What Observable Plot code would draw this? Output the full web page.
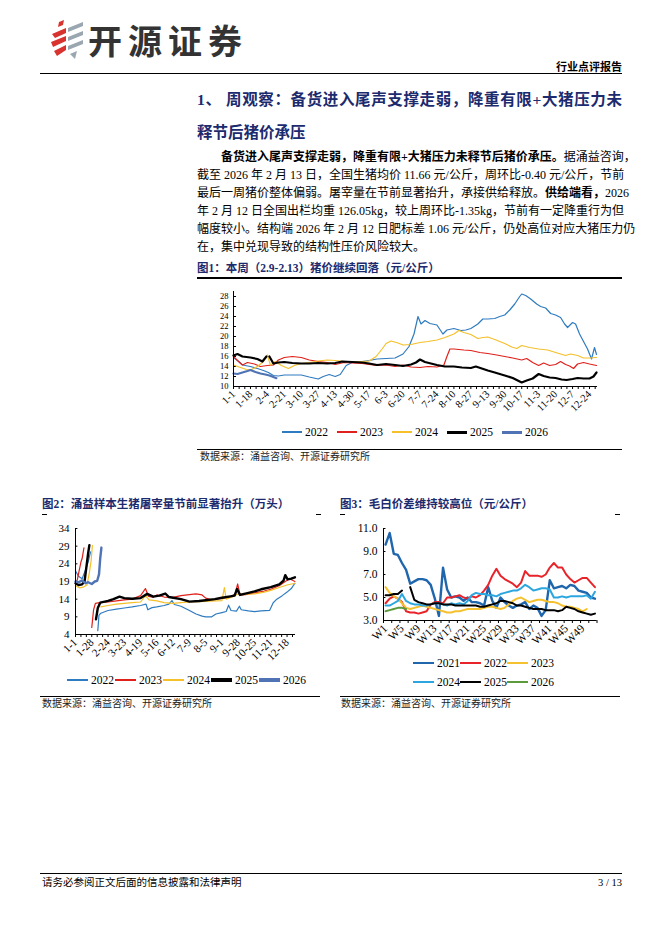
<!DOCTYPE html>
<html><head><meta charset="utf-8">
<script src="https://cdn.jsdelivr.net/npm/d3@7"></script>
<script src="https://cdn.jsdelivr.net/npm/@observablehq/plot@0.6"></script>
<style>
body{margin:0;background:#fff;}
#page{position:relative;width:662px;height:936px;overflow:hidden;background:#fff;font-family:"Liberation Serif","Noto Sans CJK SC",serif;color:#000;}
.abs{position:absolute;white-space:nowrap;}
.hl{position:absolute;background:#000;}
.para{position:absolute;font-size:12px;line-height:18px;height:18px;white-space:nowrap;text-align:justify;text-align-last:justify;}
.para b{font-family:"Liberation Serif","Noto Sans CJK SC";font-weight:700;}
.navy{color:#1c2a6e;font-weight:700;}
.src{position:absolute;font-size:10px;line-height:12px;color:#222;white-space:nowrap;}
.chart{position:absolute;overflow:visible;}
.lg{position:absolute;display:flex;align-items:center;font-size:11.5px;line-height:14px;white-space:nowrap;}
.lg .it{display:flex;align-items:center;}
.lg .sw{display:inline-block;}
</style></head>
<body><div id="page"></div>
<script>
// ---------------- DATA ----------------
// Fig1: hog price (元/公斤), [date, value]
const c1Ticks = ["1-1","1-18","2-4","2-21","3-10","3-27","4-13","4-30","5-17","6-3","6-20","7-7","7-24","8-10","8-27","9-13","9-30","10-17","11-3","11-20","12-7","12-24"];
const c1_2022 = [["1-1",15.8],["1-5",15.2],["1-10",14.3],["1-18",14.0],["1-25",13.6],["1-31",13.2],["2-5",12.8],["2-10",12.2],["2-15",12.1],["2-21",12.3],["3-1",12.3],["3-10",12.3],["3-18",11.9],["3-27",11.5],["4-1",12.0],["4-7",12.4],["4-13",12.0],["4-18",12.4],["4-24",14.2],["4-30",14.8],["5-10",15.0],["5-17",15.2],["5-25",15.5],["6-3",15.6],["6-12",15.7],["6-20",16.5],["6-26",18.0],["7-1",20.5],["7-5",24.0],["7-8",22.5],["7-12",23.2],["7-17",22.6],["7-24",22.3],["7-30",20.5],["8-3",21.3],["8-10",21.6],["8-17",21.2],["8-22",21.3],["8-27",21.6],["9-3",22.5],["9-8",23.5],["9-13",23.5],["9-20",23.6],["9-25",24.0],["9-30",24.3],["10-5",25.3],["10-10",26.5],["10-15",28.0],["10-17",28.5],["10-21",28.2],["10-26",27.5],["11-1",26.5],["11-5",26.0],["11-10",25.7],["11-15",24.6],["11-20",24.3],["11-25",23.8],["11-29",22.5],["12-2",21.8],["12-7",22.8],["12-10",22.5],["12-14",20.5],["12-18",19.0],["12-22",17.5],["12-26",15.5],["12-29",17.8],["12-31",16.4]];
const c1_2023 = [["1-1",16.0],["1-5",15.2],["1-10",14.3],["1-15",14.8],["1-22",14.5],["1-28",14.0],["2-4",14.2],["2-10",14.3],["2-15",15.3],["2-21",15.8],["3-1",16.0],["3-10",15.8],["3-18",15.3],["3-27",15.0],["4-5",14.8],["4-13",14.4],["4-22",14.8],["4-30",14.7],["5-10",14.6],["5-17",14.4],["5-25",14.2],["6-3",14.3],["6-12",14.0],["6-20",14.3],["6-28",13.9],["7-7",13.8],["7-15",14.0],["7-24",13.9],["7-31",14.3],["8-3",16.0],["8-6",17.5],["8-10",17.5],["8-20",17.3],["8-27",17.2],["9-5",16.8],["9-13",16.6],["9-22",16.3],["9-30",16.0],["10-8",15.7],["10-17",15.3],["10-22",15.6],["10-28",14.8],["11-3",14.2],["11-8",14.7],["11-14",14.2],["11-20",14.4],["11-25",15.0],["11-30",14.4],["12-4",14.1],["12-8",13.6],["12-12",14.5],["12-18",14.8],["12-24",14.5],["12-31",14.2]];
const c1_2024 = [["1-1",14.3],["1-8",13.8],["1-14",13.4],["1-18",13.3],["1-25",14.0],["1-31",15.0],["2-4",16.3],["2-7",14.3],["2-12",15.0],["2-18",14.2],["2-25",13.6],["3-3",14.2],["3-10",14.6],["3-18",14.8],["3-27",15.1],["4-5",15.3],["4-13",15.2],["4-22",15.0],["4-30",14.9],["5-10",15.0],["5-17",15.1],["5-24",16.0],["5-30",17.5],["6-3",18.6],["6-8",19.1],["6-15",18.7],["6-20",18.3],["6-28",18.4],["7-7",18.8],["7-15",19.0],["7-24",19.3],["8-1",19.8],["8-10",20.5],["8-15",21.2],["8-20",20.8],["8-27",20.4],["9-3",19.6],["9-8",19.8],["9-13",19.9],["9-20",19.4],["9-30",18.6],["10-7",17.9],["10-12",17.6],["10-17",18.2],["10-25",17.8],["11-3",17.5],["11-12",17.3],["11-20",16.8],["11-30",16.2],["12-5",16.5],["12-12",16.2],["12-18",15.7],["12-24",15.7],["12-31",15.8]];
const c1_2025 = [["1-1",16.2],["1-5",16.5],["1-10",16.0],["1-18",15.8],["1-25",15.5],["1-30",15.0],["2-3",16.0],["2-4",null],["2-6",16.0],["2-10",14.6],["2-15",14.8],["2-21",14.9],["3-1",14.7],["3-10",14.6],["3-18",14.6],["3-27",14.7],["4-5",14.6],["4-13",14.7],["4-20",15.0],["4-30",14.9],["5-10",14.8],["5-17",14.6],["5-25",14.3],["6-3",14.5],["6-12",14.3],["6-20",14.1],["6-28",14.4],["7-3",14.8],["7-7",15.4],["7-12",14.9],["7-18",14.6],["7-24",14.3],["8-1",14.0],["8-10",14.0],["8-18",13.8],["8-27",13.7],["9-1",14.0],["9-7",13.6],["9-13",13.2],["9-20",12.8],["9-30",12.2],["10-8",11.7],["10-13",11.2],["10-17",10.8],["10-22",11.2],["10-28",11.6],["11-3",12.5],["11-8",12.1],["11-14",11.8],["11-20",11.7],["11-26",11.4],["12-1",11.3],["12-7",11.5],["12-12",11.7],["12-18",11.6],["12-24",11.6],["12-28",12.0],["12-31",12.8]];
const c1_2026 = [["1-1",12.6],["1-5",12.5],["1-10",12.8],["1-15",13.1],["1-18",13.3],["1-23",12.9],["1-28",12.6],["2-2",12.4],["2-6",12.2],["2-10",11.9],["2-13",11.66]];

// Fig2: slaughter volume (万头)
const c2Ticks = ["1-1","1-28","2-24","3-23","4-19","5-16","6-12","7-9","8-5","9-1","9-28","10-25","11-21","12-18"];
const c2_2022 = [["1-1",22.0],["1-6",20.5],["1-12",19.8],["1-18",22.5],["1-22",24.5],["1-26",27.4],["1-28",null],["2-7",5.1],["2-9",9.5],["2-12",10.0],["2-24",10.8],["3-10",11.2],["3-23",11.5],["4-5",11.8],["4-19",12.2],["4-28",12.6],["5-1",11.0],["5-8",11.6],["5-16",11.8],["5-28",12.2],["6-5",12.6],["6-10",13.6],["6-14",12.5],["6-25",12.0],["7-9",10.8],["7-20",9.8],["7-30",9.2],["8-5",9.0],["8-15",9.0],["8-22",9.8],["9-1",10.2],["9-8",10.5],["9-12",12.3],["9-16",10.8],["9-25",10.6],["9-30",12.0],["10-3",11.0],["10-15",10.7],["10-25",10.5],["11-5",10.7],["11-19",10.8],["11-25",13.0],["12-1",14.0],["12-10",15.0],["12-18",16.0],["12-25",17.0],["12-31",18.5]];
const c2_2023 = [["1-1",18.5],["1-4",19.5],["1-7",22.0],["1-10",24.5],["1-12",25.5],["1-15",28.5],["1-16",null],["1-28",6.0],["1-31",11.0],["2-3",12.8],["2-10",13.0],["2-24",13.2],["3-10",13.5],["3-23",13.8],["4-5",14.0],["4-19",15.0],["4-27",17.0],["5-2",14.8],["5-10",14.6],["5-16",15.2],["5-28",14.6],["6-12",14.5],["6-25",15.0],["7-9",15.3],["7-20",15.5],["7-30",15.2],["8-5",14.3],["8-15",13.8],["9-1",14.2],["9-15",14.6],["9-23",15.5],["9-27",18.3],["10-1",15.2],["10-10",15.3],["10-25",15.8],["11-10",16.3],["11-21",16.8],["12-5",17.8],["12-15",19.0],["12-22",19.8],["12-31",19.0]];
const c2_2024 = [["1-1",17.8],["1-8",17.2],["1-15",17.5],["1-20",18.0],["1-24",21.5],["1-27",25.0],["1-29",29.2],["1-30",null],["2-12",11.8],["2-24",12.2],["3-10",12.6],["3-23",12.8],["4-5",13.0],["4-19",13.2],["4-27",15.0],["5-3",13.8],["5-16",13.5],["5-28",13.0],["6-12",12.8],["6-25",13.0],["7-9",13.2],["7-25",13.3],["8-5",13.4],["8-20",13.5],["9-1",13.6],["9-5",17.3],["9-8",14.0],["9-20",14.8],["9-28",15.5],["10-10",15.4],["10-25",15.5],["11-10",16.0],["11-21",16.5],["12-5",17.3],["12-18",18.0],["12-31",18.5]];
const c2_2025 = [["1-1",18.5],["1-6",18.0],["1-12",18.2],["1-16",19.0],["1-19",23.0],["1-22",27.0],["1-24",29.3],["1-25",null],["2-4",8.3],["2-7",11.5],["2-11",13.0],["2-24",13.5],["3-5",14.0],["3-15",14.7],["3-23",14.3],["4-5",14.1],["4-19",14.3],["4-30",15.5],["5-10",14.7],["5-20",15.0],["5-30",15.6],["6-5",14.6],["6-12",14.4],["6-25",14.0],["7-9",13.3],["7-25",13.5],["8-5",13.7],["8-20",14.0],["9-1",14.4],["9-15",14.8],["9-22",15.0],["9-26",16.9],["10-1",15.2],["10-15",15.8],["10-25",16.2],["11-5",16.8],["11-21",17.4],["12-5",18.2],["12-12",19.2],["12-15",20.8],["12-19",19.6],["12-25",19.8],["12-31",20.2]];
const c2_2026 = [["1-1",19.0],["1-6",18.8],["1-12",19.3],["1-18",18.5],["1-22",18.8],["1-28",18.3],["2-2",19.0],["2-6",19.2],["2-9",21.0],["2-11",25.5],["2-13",28.6]];

// Fig3: weekly spread (元/公斤), W1..W52
const c3Ticks = ["W1","W5","W9","W13","W17","W21","W25","W29","W33","W37","W41","W45","W49"];
const c3_2021 = [9.6,10.6,8.8,8.7,8.0,7.4,6.2,6.4,6.6,6.6,6.5,6.1,4.9,3.4,7.6,5.7,5.0,5.1,5.0,4.7,5.0,4.6,4.6,4.5,4.3,5.9,4.7,4.1,5.0,4.6,4.3,4.1,4.3,4.4,4.6,4.0,4.3,4.1,3.4,3.9,6.5,5.8,5.9,6.0,5.8,6.1,6.0,5.6,5.5,5.4,5.0,4.9];
const c3_2022 = [4.5,4.9,5.1,4.9,4.6,3.8,3.7,3.7,3.6,3.7,3.8,4.4,4.6,4.6,4.5,5.0,5.0,5.1,5.2,5.0,4.9,5.1,5.0,5.2,5.6,6.1,6.9,7.5,6.9,6.6,6.4,6.2,5.9,6.3,7.3,6.9,6.9,6.9,6.8,7.0,7.6,8.0,7.6,7.6,7.0,6.6,6.3,6.5,6.7,6.7,6.3,5.9];
const c3_2023 = [5.9,5.4,5.1,4.9,4.5,4.1,4.0,4.1,4.2,4.3,4.2,4.1,4.0,3.9,3.8,3.7,3.7,3.8,3.8,3.9,4.0,4.0,4.0,4.0,4.1,4.2,4.2,4.1,4.0,4.1,4.4,4.7,4.9,5.0,4.8,4.6,4.7,4.8,4.8,4.7,4.6,4.6,4.5,4.3,4.2,4.2,4.1,4.0,3.8,4.0,null,null];
const c3_2024 = [4.3,4.3,4.5,4.7,5.3,4.7,4.5,4.4,4.4,4.3,4.3,4.4,4.5,4.5,4.4,4.3,4.5,4.4,4.5,4.4,4.7,5.2,5.4,5.3,5.3,5.2,5.2,5.1,5.3,5.4,5.5,5.6,5.6,5.8,6.1,5.9,5.6,5.7,5.8,5.8,5.7,5.0,5.0,5.1,5.0,5.1,5.1,5.1,5.1,5.2,4.9,5.5];
const c3_2025 = [5.2,5.2,5.3,5.3,5.6,null,5.9,4.8,4.6,4.5,4.4,4.4,4.5,4.5,4.4,4.4,4.4,4.3,4.3,4.3,4.3,4.3,4.3,4.2,4.2,4.3,4.4,4.5,4.7,4.7,4.6,4.5,4.3,4.3,4.2,4.1,4.0,4.0,4.0,3.9,3.9,3.9,3.8,3.9,4.2,4.1,4.0,3.8,3.7,3.6,3.5,3.6];
const c3_2026 = [3.8,3.9,4.0,4.1,4.1,4.0];

// ---------------- HELPERS ----------------
const page = document.getElementById("page");
function el(tag, cls, style, html){const e=document.createElement(tag); if(cls) e.className=cls; if(style) e.setAttribute("style",style); if(html!=null) e.innerHTML=html; page.appendChild(e); return e;}
function hline(x1,x2,y,h){el("div","hl",`left:${x1}px;top:${y}px;width:${x2-x1}px;height:${h||1}px`);}
function doy(md){const [m,d]=md.split("-").map(Number);return d3.utcDay.count(new Date(Date.UTC(2023,0,1)),new Date(Date.UTC(2023,m-1,d)));}
const rowsD = arr => arr.map(([md,v])=>({x:doy(md),v}));
const rowsW = arr => arr.map((v,i)=>({x:i+1,v}));
function legend(left, top, items, pitch, lineW, fs){
  const box=el("div","lg",`left:${left}px;top:${top-7}px;font-size:${fs||11.5}px`);
  items.forEach((it,i)=>{
    const d=document.createElement("div"); d.className="it";
    d.style.position="absolute"; d.style.left=(i*pitch)+"px"; d.style.top="0px"; d.style.height="14px";
    d.innerHTML=`<span class="sw" style="width:${lineW}px;height:${it.w}px;background:${it.c}"></span><span style="margin-left:3px">${it.t}</span>`;
    box.appendChild(d);
  });
}
function place(svg, left, top){svg.classList.add("chart"); svg.style.left=left+"px"; svg.style.top=top+"px"; page.appendChild(svg);}

// ---------------- PAGE TEXT ----------------
el("div","abs",`left:50px;top:19px;width:36px;height:42px`,
 `<svg width="36" height="42" viewBox="0 0 36 42">
  <polygon points="9,3 14,1 13,6 8,8" fill="#d9332f"/>
  <polygon points="2,15 16,9 16,14 5,19" fill="#d9332f"/>
  <polygon points="1,23 16,17 16,22 3,28" fill="#d9332f"/>
  <polygon points="4,32 16,26 16,31 7,37" fill="#d9332f"/>
  <polygon points="18,9 33,3 33,7 18,13" fill="#9aa7b1"/>
  <polygon points="18,18 33,12 33,16 18,22" fill="#9aa7b1"/>
  <polygon points="18,27 33,21 33,25 18,31" fill="#9aa7b1"/>
  <polygon points="20,35 27,32 25,40" fill="#9aa7b1"/>
 </svg>`);
el("div","abs",`left:88px;top:18px;font-family:'Noto Sans CJK SC';font-weight:700;font-size:34px;line-height:44px;letter-spacing:6px;color:#333`,"开源证券");
el("div","abs",`right:40px;top:59px;font-family:'Noto Sans CJK SC';font-weight:700;font-size:11px;line-height:14px`,"行业点评报告");
hline(40,622,73,1.2);

el("div","para navy",`left:197px;top:89px;width:425px;height:22px;font-size:15.5px;line-height:22px;font-family:'Liberation Serif','Noto Sans CJK SC'`,"1、 周观察：备货进入尾声支撑走弱，降重有限+大猪压力未");
el("div","abs navy",`left:197px;top:120px;font-size:15.5px;line-height:22px;font-family:'Noto Sans CJK SC'`,"释节后猪价承压");

const paraLines = [
 [221,402,"<b>备货进入尾声支撑走弱，降重有限+大猪压力未释节后猪价承压。</b>据涌益咨询，"],
 [197,426,"截至 2026 年 2 月 13 日，全国生猪均价 11.66 元/公斤，周环比-0.40 元/公斤，节前"],
 [197,426,"最后一周猪价整体偏弱。屠宰量在节前显著抬升，承接供给释放。<b>供给端看，</b>2026"],
 [197,426,"年 2 月 12 日全国出栏均重 126.05kg，较上周环比-1.35kg，节前有一定降重行为但"],
 [197,426,"幅度较小。结构端 2026 年 2 月 12 日肥标差 1.06 元/公斤，仍处高位对应大猪压力仍"]
];
paraLines.forEach(([l,w,t],i)=>el("div","para",`left:${l}px;top:${148+i*18}px;width:${w}px`,t));
el("div","para",`left:197px;top:${148+5*18}px;text-align:left;text-align-last:left`,"在，集中兑现导致的结构性压价风险较大。");

el("div","abs navy",`left:197px;top:261px;font-size:11.5px;line-height:14px`,"图1：本周（2.9-2.13）猪价继续回落（元/公斤）");
hline(197,622,277,1.5);

el("div","abs navy",`left:42px;top:497px;font-size:11.5px;line-height:14px`,"图2：涌益样本生猪屠宰量节前显著抬升（万头）");
hline(42,47,514,1.2); hline(316,321,514,1.2);
el("div","abs navy",`left:340px;top:497px;font-size:11.5px;line-height:14px`,"图3：毛白价差维持较高位（元/公斤）");
hline(340,345,514,1.2); hline(615,620,514,1.2);

hline(197,622,449,1);
el("div","src",`left:200px;top:451px`,"数据来源：涌益咨询、开源证券研究所");
hline(40,320,696,1);
el("div","src",`left:42px;top:698px`,"数据来源：涌益咨询、开源证券研究所");
hline(340,620,696,1);
el("div","src",`left:341px;top:698px`,"数据来源：涌益咨询、开源证券研究所");

hline(40,622,873,1.2);
el("div","abs",`left:42px;top:876px;font-size:10.5px;line-height:13px`,"请务必参阅正文后面的信息披露和法律声明");
el("div","abs",`right:40px;top:876px;font-size:10.5px;line-height:13px`,"3 / 13");

// ---------------- CHARTS ----------------
const baseStyle = {fontFamily:"'Liberation Serif','Times New Roman',serif", fontSize:"11px", color:"#000", background:"transparent", overflow:"visible"};
const col = {y2022:"#2f7bbf", y2023:"#e0201b", y2024:"#f5c02a", y2025:"#000000", y2026:"#4f73b4"};

// Fig1
{
  const yt = d3.range(10, 29, 2);
  const majors = c1Ticks.map(doy);
  const lab = new Map(c1Ticks.map(t=>[doy(t),t]));
  const series = [[c1_2022,col.y2022,1.2],[c1_2023,col.y2023,1.2],[c1_2024,col.y2024,1.2],[c1_2025,col.y2025,2.2],[c1_2026,col.y2026,2.2]];
  const svg = Plot.plot({
    width:440, height:150, marginLeft:43, marginRight:33, marginTop:6, marginBottom:49,
    x:{domain:[0,365]}, y:{domain:[10,29]}, style:baseStyle,
    marks:[
      Plot.axisY({ticks:yt, tickSize:0, tickPadding:5, fontSize:8.5, label:null}),
      Plot.ruleY(yt,{y:d=>d, x1:0, x2:3, stroke:"#000"}),
      Plot.axisX({ticks:d3.range(0,366,17/3), tickSize:3, tickFormat:()=>"", label:null}),
      Plot.axisX({ticks:majors, tickSize:0, tickPadding:6, tickRotate:-45, fontSize:10.5, tickFormat:d=>lab.get(d), label:null}),
      ...series.map(([a,c,w])=>Plot.line(rowsD(a),{x:"x",y:"v",stroke:c,strokeWidth:w})),
      Plot.ruleX([0],{stroke:"#000"}),
      Plot.ruleY([10],{stroke:"#000"})
    ]
  });
  place(svg,190,285);
  legend(282,432,[{t:"2022",c:col.y2022,w:1.3},{t:"2023",c:col.y2023,w:1.3},{t:"2024",c:col.y2024,w:1.3},{t:"2025",c:col.y2025,w:3},{t:"2026",c:col.y2026,w:3}],55,20,11.5);
}

// Fig2
{
  const yt = [4,9,14,19,24,29,34];
  const majors = c2Ticks.map(doy);
  const lab = new Map(c2Ticks.map(t=>[doy(t),t]));
  const series = [[c2_2022,col.y2022,1.2],[c2_2023,col.y2023,1.2],[c2_2024,col.y2024,1.2],[c2_2025,col.y2025,2.4],[c2_2026,col.y2026,2.4]];
  const svg = Plot.plot({
    width:300, height:160, marginLeft:45, marginRight:35, marginTop:10, marginBottom:44,
    x:{domain:[0,365]}, y:{domain:[4,34]}, style:baseStyle,
    marks:[
      Plot.axisY({ticks:yt, tickSize:0, tickPadding:6, label:null}),
      Plot.ruleY(yt,{y:d=>d, x1:0, x2:4, stroke:"#000"}),
      Plot.axisX({ticks:d3.range(0,366,9), tickSize:3, tickFormat:()=>"", label:null}),
      Plot.axisX({ticks:majors, tickSize:0, tickPadding:6, tickRotate:-45, tickFormat:d=>lab.get(d), label:null}),
      ...series.map(([a,c,w])=>Plot.line(rowsD(a),{x:"x",y:"v",stroke:c,strokeWidth:w})),
      Plot.ruleX([0],{stroke:"#000"}),
      Plot.ruleY([4],{stroke:"#000"})
    ]
  });
  place(svg,30,518);
  legend(67,680,[{t:"2022",c:col.y2022,w:1.3},{t:"2023",c:col.y2023,w:1.3},{t:"2024",c:col.y2024,w:1.3},{t:"2025",c:col.y2025,w:3.2},{t:"2026",c:col.y2026,w:3.2}],48,21,11.5);
}

// Fig3
{
  const c3 = {y2021:"#1f66ad", y2022:"#e8242a", y2023:"#f6c12e", y2024:"#2ba6de", y2025:"#000000", y2026:"#5b9b3c"};
  const yt = [3,5,7,9,11];
  const majors = c3Ticks.map(t=>+t.slice(1));
  const series = [[c3_2021,c3.y2021,2.4],[c3_2022,c3.y2022,2],[c3_2023,c3.y2023,2],[c3_2024,c3.y2024,2],[c3_2025,c3.y2025,2],[c3_2026,c3.y2026,2]];
  const svg = Plot.plot({
    width:295, height:140, marginLeft:53, marginRight:28.5, marginTop:10, marginBottom:38,
    x:{domain:[0.5,52.5]}, y:{domain:[3,11]}, style:baseStyle,
    marks:[
      Plot.axisY({ticks:yt, tickSize:0, tickPadding:6, fontSize:11.5, tickFormat:d=>d.toFixed(1), label:null}),
      Plot.ruleY(yt,{y:d=>d, x1:0.5, x2:1.1, stroke:"#000"}),
      Plot.axisX({ticks:d3.range(0.5,53,2), tickSize:3, tickFormat:()=>"", label:null}),
      Plot.axisX({ticks:majors, tickSize:0, tickPadding:6, tickRotate:-45, fontSize:11.5, tickFormat:d=>"W"+d, label:null}),
      ...series.map(([a,c,w])=>Plot.line(rowsW(a),{x:"x",y:"v",stroke:c,strokeWidth:w})),
      Plot.ruleX([0.5],{stroke:"#000"}),
      Plot.ruleY([3],{stroke:"#000"})
    ]
  });
  place(svg,330,518);
  legend(413,663,[{t:"2021",c:c3.y2021,w:2.6},{t:"2022",c:c3.y2022,w:2.6},{t:"2023",c:c3.y2023,w:2.6}],47,21,11.5);
  legend(413,682,[{t:"2024",c:c3.y2024,w:2.6},{t:"2025",c:c3.y2025,w:2.6},{t:"2026",c:c3.y2026,w:2.6}],47,21,11.5);
}
</script></body></html>
